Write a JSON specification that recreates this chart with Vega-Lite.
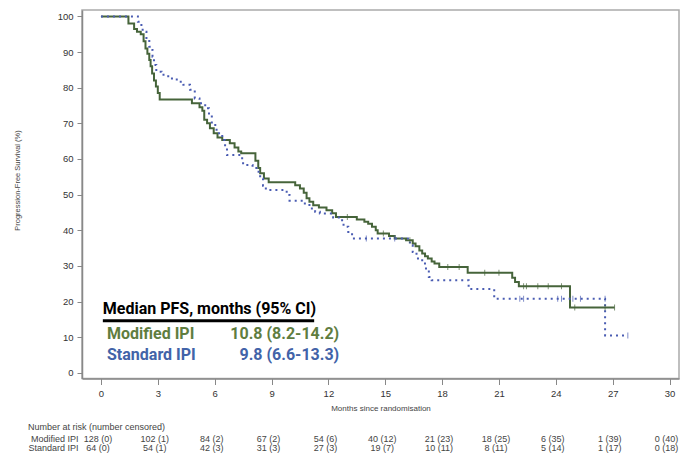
{
  "$schema": "https://vega.github.io/schema/vega-lite/v6.json",
  "background": "white",
  "padding": {"left": 12, "top": 9, "right": 4, "bottom": 0},
  "spacing": 10,
  "config": {
    "font": "Liberation Sans",
    "view": {"stroke": "#aaaaaa", "strokeWidth": 1.5},
    "axis": {"labelColor": "#333333", "titleColor": "#444444", "titleFontWeight": "normal", "domainColor": "#888888", "tickColor": "#888888", "grid": false}
  },
  "datasets": {
    "km": [
      {"group": "Modified IPI", "month": 0, "surv": 100},
      {"group": "Modified IPI", "month": 1.45, "surv": 98},
      {"group": "Modified IPI", "month": 1.75, "surv": 96.5},
      {"group": "Modified IPI", "month": 1.9, "surv": 95.7},
      {"group": "Modified IPI", "month": 2.1, "surv": 95},
      {"group": "Modified IPI", "month": 2.25, "surv": 93},
      {"group": "Modified IPI", "month": 2.35, "surv": 91},
      {"group": "Modified IPI", "month": 2.45, "surv": 89.5},
      {"group": "Modified IPI", "month": 2.55, "surv": 87.8},
      {"group": "Modified IPI", "month": 2.62, "surv": 86},
      {"group": "Modified IPI", "month": 2.7, "surv": 84},
      {"group": "Modified IPI", "month": 2.8, "surv": 82},
      {"group": "Modified IPI", "month": 2.9, "surv": 80.3},
      {"group": "Modified IPI", "month": 3.0, "surv": 78.5},
      {"group": "Modified IPI", "month": 3.1, "surv": 76.7},
      {"group": "Modified IPI", "month": 4.8, "surv": 75.6},
      {"group": "Modified IPI", "month": 5.2, "surv": 74.5},
      {"group": "Modified IPI", "month": 5.35, "surv": 73.5},
      {"group": "Modified IPI", "month": 5.45, "surv": 71},
      {"group": "Modified IPI", "month": 5.6, "surv": 70},
      {"group": "Modified IPI", "month": 5.75, "surv": 68.6},
      {"group": "Modified IPI", "month": 5.95, "surv": 67.2},
      {"group": "Modified IPI", "month": 6.15, "surv": 66},
      {"group": "Modified IPI", "month": 6.4, "surv": 65.3},
      {"group": "Modified IPI", "month": 6.8, "surv": 64.4},
      {"group": "Modified IPI", "month": 7.05, "surv": 63.2},
      {"group": "Modified IPI", "month": 7.25, "surv": 62.1},
      {"group": "Modified IPI", "month": 7.4, "surv": 61.6},
      {"group": "Modified IPI", "month": 8.15, "surv": 59.5},
      {"group": "Modified IPI", "month": 8.3, "surv": 57.5},
      {"group": "Modified IPI", "month": 8.4, "surv": 56},
      {"group": "Modified IPI", "month": 8.6, "surv": 54.5},
      {"group": "Modified IPI", "month": 8.85, "surv": 53.5},
      {"group": "Modified IPI", "month": 10.25, "surv": 52.6},
      {"group": "Modified IPI", "month": 10.5, "surv": 51.7},
      {"group": "Modified IPI", "month": 10.7, "surv": 50.5},
      {"group": "Modified IPI", "month": 10.85, "surv": 49},
      {"group": "Modified IPI", "month": 11.0, "surv": 48},
      {"group": "Modified IPI", "month": 11.2, "surv": 47},
      {"group": "Modified IPI", "month": 11.5, "surv": 46.4},
      {"group": "Modified IPI", "month": 11.9, "surv": 45.6},
      {"group": "Modified IPI", "month": 12.2, "surv": 44.8},
      {"group": "Modified IPI", "month": 12.4, "surv": 43.7},
      {"group": "Modified IPI", "month": 13.5, "surv": 43},
      {"group": "Modified IPI", "month": 13.9, "surv": 42.4},
      {"group": "Modified IPI", "month": 14.1, "surv": 41.8},
      {"group": "Modified IPI", "month": 14.3, "surv": 41},
      {"group": "Modified IPI", "month": 14.5, "surv": 40},
      {"group": "Modified IPI", "month": 14.6, "surv": 39.1},
      {"group": "Modified IPI", "month": 15.2, "surv": 38.4},
      {"group": "Modified IPI", "month": 15.5, "surv": 37.7},
      {"group": "Modified IPI", "month": 16.1, "surv": 37.2},
      {"group": "Modified IPI", "month": 16.45, "surv": 36.3},
      {"group": "Modified IPI", "month": 16.6, "surv": 35.5},
      {"group": "Modified IPI", "month": 16.8, "surv": 34.3},
      {"group": "Modified IPI", "month": 16.95, "surv": 33.5},
      {"group": "Modified IPI", "month": 17.1, "surv": 32.7},
      {"group": "Modified IPI", "month": 17.25, "surv": 32.1},
      {"group": "Modified IPI", "month": 17.45, "surv": 31.2},
      {"group": "Modified IPI", "month": 17.6, "surv": 30.7},
      {"group": "Modified IPI", "month": 17.85, "surv": 29.7},
      {"group": "Modified IPI", "month": 19.35, "surv": 28.1},
      {"group": "Modified IPI", "month": 21.7, "surv": 26.7},
      {"group": "Modified IPI", "month": 21.85, "surv": 25.5},
      {"group": "Modified IPI", "month": 22.05, "surv": 24.3},
      {"group": "Modified IPI", "month": 24.75, "surv": 18.3},
      {"group": "Modified IPI", "month": 27.1, "surv": 18.3},
      {"group": "Standard IPI", "month": 0, "surv": 100},
      {"group": "Standard IPI", "month": 1.95, "surv": 98.5},
      {"group": "Standard IPI", "month": 2.05, "surv": 97.6},
      {"group": "Standard IPI", "month": 2.2, "surv": 95.7},
      {"group": "Standard IPI", "month": 2.4, "surv": 93.4},
      {"group": "Standard IPI", "month": 2.55, "surv": 91.5},
      {"group": "Standard IPI", "month": 2.65, "surv": 90.6},
      {"group": "Standard IPI", "month": 2.72, "surv": 88.7},
      {"group": "Standard IPI", "month": 2.8, "surv": 86.4},
      {"group": "Standard IPI", "month": 2.92, "surv": 84.5},
      {"group": "Standard IPI", "month": 3.2, "surv": 83.6},
      {"group": "Standard IPI", "month": 3.55, "surv": 82.6},
      {"group": "Standard IPI", "month": 4.0, "surv": 81.7},
      {"group": "Standard IPI", "month": 4.35, "surv": 80.8},
      {"group": "Standard IPI", "month": 4.7, "surv": 79.4},
      {"group": "Standard IPI", "month": 4.95, "surv": 77},
      {"group": "Standard IPI", "month": 5.2, "surv": 75.6},
      {"group": "Standard IPI", "month": 5.5, "surv": 74.2},
      {"group": "Standard IPI", "month": 5.7, "surv": 71.9},
      {"group": "Standard IPI", "month": 5.85, "surv": 69.5},
      {"group": "Standard IPI", "month": 6.1, "surv": 67.2},
      {"group": "Standard IPI", "month": 6.4, "surv": 65.3},
      {"group": "Standard IPI", "month": 6.55, "surv": 63},
      {"group": "Standard IPI", "month": 6.65, "surv": 61.1},
      {"group": "Standard IPI", "month": 7.45, "surv": 59.5},
      {"group": "Standard IPI", "month": 7.5, "surv": 58.3},
      {"group": "Standard IPI", "month": 8.0, "surv": 57.8},
      {"group": "Standard IPI", "month": 8.2, "surv": 56.4},
      {"group": "Standard IPI", "month": 8.4, "surv": 54.5},
      {"group": "Standard IPI", "month": 8.55, "surv": 52.5},
      {"group": "Standard IPI", "month": 8.7, "surv": 51.3},
      {"group": "Standard IPI", "month": 9.8, "surv": 49.9},
      {"group": "Standard IPI", "month": 9.95, "surv": 48.3},
      {"group": "Standard IPI", "month": 10.7, "surv": 47.5},
      {"group": "Standard IPI", "month": 11.0, "surv": 46.1},
      {"group": "Standard IPI", "month": 11.3, "surv": 45.2},
      {"group": "Standard IPI", "month": 11.55, "surv": 44.7},
      {"group": "Standard IPI", "month": 12.25, "surv": 43.6},
      {"group": "Standard IPI", "month": 12.55, "surv": 42.8},
      {"group": "Standard IPI", "month": 12.8, "surv": 41},
      {"group": "Standard IPI", "month": 13.05, "surv": 39.5},
      {"group": "Standard IPI", "month": 13.25, "surv": 37.7},
      {"group": "Standard IPI", "month": 16.3, "surv": 35.8},
      {"group": "Standard IPI", "month": 16.45, "surv": 33.9},
      {"group": "Standard IPI", "month": 16.65, "surv": 32.1},
      {"group": "Standard IPI", "month": 16.95, "surv": 30.7},
      {"group": "Standard IPI", "month": 17.15, "surv": 28.8},
      {"group": "Standard IPI", "month": 17.3, "surv": 26.9},
      {"group": "Standard IPI", "month": 17.45, "surv": 26.0},
      {"group": "Standard IPI", "month": 19.4, "surv": 23.5},
      {"group": "Standard IPI", "month": 20.75, "surv": 20.8},
      {"group": "Standard IPI", "month": 26.6, "surv": 10.5},
      {"group": "Standard IPI", "month": 27.8, "surv": 10.5}
    ],
    "censor": [
      {"group": "Modified IPI", "month": 13.0, "surv": 43.7},
      {"group": "Modified IPI", "month": 14.9, "surv": 39.1},
      {"group": "Modified IPI", "month": 16.3, "surv": 37.2},
      {"group": "Modified IPI", "month": 18.3, "surv": 29.7},
      {"group": "Modified IPI", "month": 18.9, "surv": 29.7},
      {"group": "Modified IPI", "month": 20.25, "surv": 28.1},
      {"group": "Modified IPI", "month": 21.0, "surv": 28.1},
      {"group": "Modified IPI", "month": 22.3, "surv": 24.3},
      {"group": "Modified IPI", "month": 22.45, "surv": 24.3},
      {"group": "Modified IPI", "month": 23.05, "surv": 24.3},
      {"group": "Modified IPI", "month": 23.6, "surv": 24.3},
      {"group": "Modified IPI", "month": 24.3, "surv": 24.3},
      {"group": "Modified IPI", "month": 25.0, "surv": 18.3},
      {"group": "Modified IPI", "month": 26.6, "surv": 18.3},
      {"group": "Modified IPI", "month": 27.1, "surv": 18.3},
      {"group": "Standard IPI", "month": 14.0, "surv": 37.7},
      {"group": "Standard IPI", "month": 15.5, "surv": 37.7},
      {"group": "Standard IPI", "month": 22.1, "surv": 20.8},
      {"group": "Standard IPI", "month": 22.3, "surv": 20.8},
      {"group": "Standard IPI", "month": 24.1, "surv": 20.8},
      {"group": "Standard IPI", "month": 24.3, "surv": 20.8},
      {"group": "Standard IPI", "month": 24.9, "surv": 20.8},
      {"group": "Standard IPI", "month": 25.3, "surv": 20.8},
      {"group": "Standard IPI", "month": 26.6, "surv": 20.8},
      {"group": "Standard IPI", "month": 27.8, "surv": 10.5}
    ],
    "risk": [
      {"group": "Modified IPI", "month": 0, "label": "128 (0)"},
      {"group": "Modified IPI", "month": 3, "label": "102 (1)"},
      {"group": "Modified IPI", "month": 6, "label": "84 (2)"},
      {"group": "Modified IPI", "month": 9, "label": "67 (2)"},
      {"group": "Modified IPI", "month": 12, "label": "54 (6)"},
      {"group": "Modified IPI", "month": 15, "label": "40 (12)"},
      {"group": "Modified IPI", "month": 18, "label": "21 (23)"},
      {"group": "Modified IPI", "month": 21, "label": "18 (25)"},
      {"group": "Modified IPI", "month": 24, "label": "6 (35)"},
      {"group": "Modified IPI", "month": 27, "label": "1 (39)"},
      {"group": "Modified IPI", "month": 30, "label": "0 (40)"},
      {"group": "Standard IPI", "month": 0, "label": "64 (0)"},
      {"group": "Standard IPI", "month": 3, "label": "54 (1)"},
      {"group": "Standard IPI", "month": 6, "label": "42 (3)"},
      {"group": "Standard IPI", "month": 9, "label": "31 (3)"},
      {"group": "Standard IPI", "month": 12, "label": "27 (3)"},
      {"group": "Standard IPI", "month": 15, "label": "19 (7)"},
      {"group": "Standard IPI", "month": 18, "label": "10 (11)"},
      {"group": "Standard IPI", "month": 21, "label": "8 (11)"},
      {"group": "Standard IPI", "month": 24, "label": "5 (14)"},
      {"group": "Standard IPI", "month": 27, "label": "1 (17)"},
      {"group": "Standard IPI", "month": 30, "label": "0 (18)"}
    ]
  },
  "vconcat": [
    {
      "width": 597,
      "height": 368.5,
      "encoding": {
        "x": {"type": "quantitative", "scale": {"domain": [-1, 30.5], "nice": false, "zero": false},
              "axis": {"values": [0, 3, 6, 9, 12, 15, 18, 21, 24, 27, 30], "title": "Months since randomisation", "titleFontSize": 8, "titlePadding": 6, "labelFontSize": 9.5, "tickSize": 6, "labelPadding": 4, "domainWidth": 1.5}},
        "y": {"type": "quantitative", "scale": {"domain": [-1.6, 101.8], "nice": false, "zero": false},
              "axis": {"values": [0, 10, 20, 30, 40, 50, 60, 70, 80, 90, 100], "tickCount": 11, "labelOverlap": false, "title": "Progression-Free Survival (%)", "titleFontSize": 7.5, "titleX": -65, "titleY": 170, "titleBaseline": "middle", "labelFontSize": 9.5, "tickSize": 5, "labelPadding": 4, "domainWidth": 1.5}}
      },
      "layer": [
        {
          "data": {"name": "km"},
          "mark": {"type": "line", "interpolate": "step-after", "strokeWidth": 2},
          "encoding": {
            "x": {"field": "month", "type": "quantitative"},
            "y": {"field": "surv", "type": "quantitative"},
            "color": {"field": "group", "type": "nominal", "scale": {"domain": ["Modified IPI", "Standard IPI"], "range": ["#46643a", "#4a5cb2"]}, "legend": null},
            "strokeDash": {"field": "group", "type": "nominal", "scale": {"domain": ["Modified IPI", "Standard IPI"], "range": [[1, 0], [2, 4]]}, "legend": null}
          }
        },
        {
          "data": {"name": "censor"},
          "mark": {"type": "tick", "orient": "vertical", "size": 6, "thickness": 1},
          "encoding": {
            "x": {"field": "month", "type": "quantitative"},
            "y": {"field": "surv", "type": "quantitative"},
            "color": {"field": "group", "type": "nominal", "legend": null}
          }
        },
        {
          "data": {"values": [{"t": "Median PFS, months (95% CI)"}]},
          "mark": {"type": "text", "align": "left", "baseline": "middle", "font": "Roboto", "fontSize": 16, "fontWeight": "bold", "color": "black"},
          "encoding": {"x": {"datum": 0.1}, "y": {"datum": 17.9}, "text": {"field": "t"}}
        },
        {
          "data": {"values": [{}]},
          "mark": {"type": "rule", "strokeWidth": 3, "color": "black"},
          "encoding": {"x": {"datum": 0.1}, "x2": {"datum": 11.25}, "y": {"datum": 14.6}}
        },
        {
          "data": {"values": [{"t": "Modified IPI", "v": "10.8 (8.2-14.2)"}]},
          "mark": {"type": "text", "align": "left", "baseline": "middle", "font": "Roboto", "fontSize": 16, "fontWeight": "bold", "color": "#5f7d3f"},
          "encoding": {"x": {"datum": 0.32}, "y": {"datum": 10.8}, "text": {"field": "t"}}
        },
        {
          "data": {"values": [{"t": "Modified IPI", "v": "10.8 (8.2-14.2)"}]},
          "mark": {"type": "text", "align": "right", "baseline": "middle", "font": "Roboto", "fontSize": 16, "fontWeight": "bold", "color": "#5f7d3f"},
          "encoding": {"x": {"datum": 12.57}, "y": {"datum": 10.8}, "text": {"field": "v"}}
        },
        {
          "data": {"values": [{"t": "Standard IPI", "v": "9.8 (6.6-13.3)"}]},
          "mark": {"type": "text", "align": "left", "baseline": "middle", "font": "Roboto", "fontSize": 16, "fontWeight": "bold", "color": "#4263a8"},
          "encoding": {"x": {"datum": 0.32}, "y": {"datum": 4.9}, "text": {"field": "t"}}
        },
        {
          "data": {"values": [{"t": "Standard IPI", "v": "9.8 (6.6-13.3)"}]},
          "mark": {"type": "text", "align": "right", "baseline": "middle", "font": "Roboto", "fontSize": 16, "fontWeight": "bold", "color": "#4263a8"},
          "encoding": {"x": {"datum": 12.57}, "y": {"datum": 4.9}, "text": {"field": "v"}}
        }
      ]
    },
    {
      "width": 597,
      "height": 18,
      "view": {"stroke": null},
      "data": {"name": "risk"},
      "title": {"text": "Number at risk (number censored)", "anchor": "start", "fontSize": 9, "fontWeight": "normal", "color": "#444444", "offset": 2, "font": "Liberation Sans"},
      "mark": {"type": "text", "fontSize": 9, "color": "#444444", "dx": -3},
      "encoding": {
        "x": {"field": "month", "type": "quantitative", "scale": {"domain": [-1, 30.5], "nice": false, "zero": false}, "axis": null},
        "y": {"field": "group", "type": "nominal", "scale": {"domain": ["Modified IPI", "Standard IPI"]},
              "axis": {"title": null, "domain": false, "ticks": false, "tickSize": 0, "labelFontSize": 9, "labelPadding": 4, "labelColor": "#444444"}},
        "text": {"field": "label"}
      }
    }
  ]
}
